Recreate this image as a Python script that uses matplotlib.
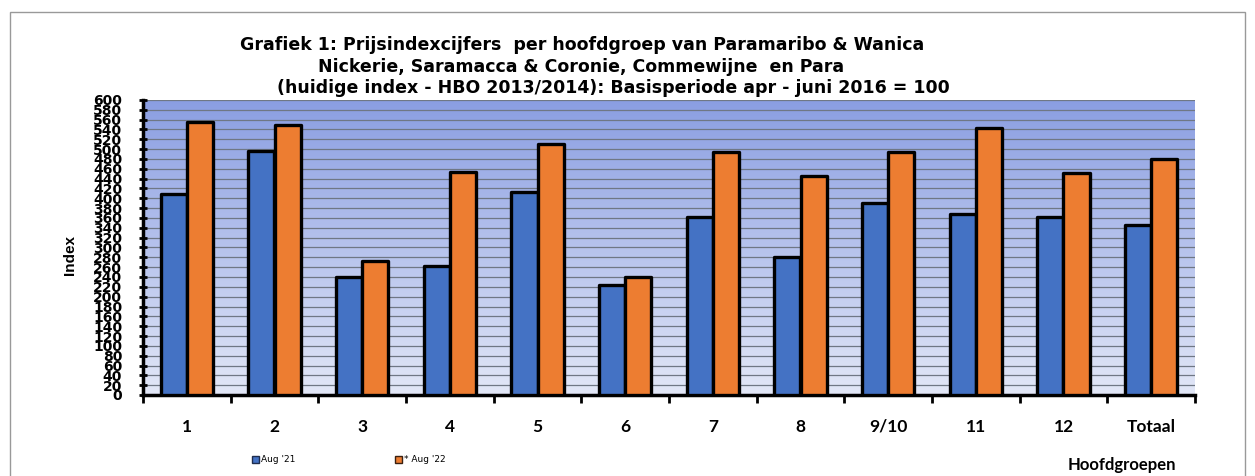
import matplotlib.pyplot as plt
import numpy as np
from matplotlib.patches import Rectangle

# data
groups = ['1', '2', '3', '4', '5', '6', '7', '8', '9/10', '11', '12', 'Totaal']
aug21 = [409, 496, 239, 262, 413, 224, 363, 281, 391, 368, 363, 346]
aug22 = [556, 549, 272, 453, 510, 241, 494, 446, 494, 544, 452, 481]
series_names = ["Aug '21", "* Aug '22"]

blue = '#4472c4'
orange = '#ed7d31'

fig = plt.figure(figsize=(12.55, 4.76), dpi=100)
ax = fig.add_axes([143/1255, 81/476, (1195-143)/1255, 295/476])

x = np.arange(len(groups))
w = 0.3

# gradient background
grad = np.linspace(0, 1, 256).reshape(-1, 1)
top = np.array([138, 158, 226]) / 255
bot = np.array([226, 231, 247]) / 255
img = bot + (top - bot) * grad[:, :, None] * np.ones((1, 1, 3))
ax.imshow(img, extent=[-0.5, len(groups) - 0.5, 0, 600], origin='lower',
          aspect='auto', zorder=0)

ax.bar(x - w/2, aug21, w, color=blue, edgecolor='black', linewidth=2.4,
       joinstyle='round', zorder=3)
ax.bar(x + w/2, aug22, w, color=orange, edgecolor='black', linewidth=2.4,
       joinstyle='round', zorder=3)

ax.set_xlim(-0.5, len(groups) - 0.5)
ax.set_ylim(0, 600)
ax.set_yticks(np.arange(0, 601, 20))
ax.yaxis.grid(True, color='#6f7785', linewidth=0.9, zorder=1)
ax.set_axisbelow(True)

for s in ['top', 'right']:
    ax.spines[s].set_visible(False)
ax.spines['left'].set_linewidth(2.5)
ax.spines['bottom'].set_linewidth(2.5)

ax.tick_params(axis='y', direction='inout', length=6, width=2, pad=12)
for lab in ax.get_yticklabels():
    lab.set_fontweight('bold')
    lab.set_fontsize(10)
    lab.set_family('DejaVu Sans')

ax.set_xticks(x)
ax.set_xticklabels(groups, fontsize=12.5, fontweight='bold', family='Lato')
ax.set_xticks(np.arange(-0.5, len(groups)), minor=True)
ax.tick_params(axis='x', which='major', length=0, pad=17)
ax.tick_params(axis='x', which='minor', length=6, width=2, direction='out')

fig.text(70/1255, 1 - 255/476, 'Index', rotation=90, ha='center', va='center',
         fontsize=11, fontweight='bold', family='Liberation Sans')

# title
title_lines = [
    'Grafiek 1: Prijsindexcijfers  per hoofdgroep van Paramaribo & Wanica',
    'Nickerie, Saramacca & Coronie, Commewijne  en Para',
    '(huidige index - HBO 2013/2014): Basisperiode apr - juni 2016 = 100',
]
for line, x0, y0 in zip(title_lines, [240, 318, 277], [45, 67, 88]):
    fig.text(x0/1255, 1 - y0/476, line, ha='left', va='center', fontsize=12.5,
             fontweight='bold', family='DejaVu Sans')

fig.text(1122/1255, 1 - 465/476, 'Hoofdgroepen', ha='center', va='center',
         fontsize=12, fontweight='bold', family='Lato')

# legend
handles = [Rectangle((0, 0), 1, 1, facecolor=blue, edgecolor='#1f2d4d', linewidth=1),
           Rectangle((0, 0), 1, 1, facecolor=orange, edgecolor='#3a2010', linewidth=1)]
fig.legend(handles=handles, labels=series_names, loc='center left',
           bbox_to_anchor=(244/1255, 1 - 460/476), ncol=2, frameon=False,
           fontsize=6.5, handlelength=0.8, handleheight=0.8, handletextpad=0.2,
           columnspacing=11)

# outer border
fig.patches.append(Rectangle((10/1255, -0.01), 1235/1255, 1.01 - 12/476,
                             transform=fig.transFigure, fill=False,
                             edgecolor='#999999', linewidth=1))

fig.savefig('out.png', dpi=100)
